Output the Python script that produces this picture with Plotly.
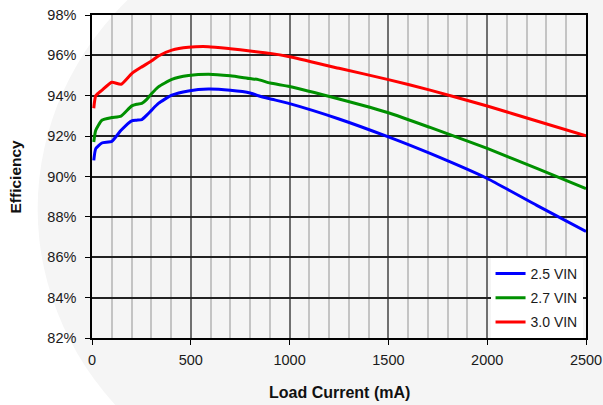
import plotly.graph_objects as go

# Load current (mA) and efficiency (%) for each input voltage
x_25 = [9, 19, 50, 100, 147, 201, 226, 252, 277, 302, 336, 404, 488, 589, 700, 800,
        842, 900, 1000, 1250, 1500, 1711, 2000, 2251, 2500]
eff_25 = [90.8, 91.38, 91.66, 91.74, 92.29, 92.76, 92.79, 92.82, 93.04, 93.29, 93.62,
          94.03, 94.24, 94.33, 94.27, 94.14, 94.0, 93.85, 93.61, 92.85, 91.96, 91.14,
          89.9, 88.57, 87.28]

x_27 = [9, 19, 50, 100, 147, 201, 226, 252, 277, 302, 336, 404, 488, 589, 700, 800,
        842, 902, 1000, 1250, 1500, 1711, 2000, 2251, 2500]
eff_27 = [91.71, 92.29, 92.79, 92.92, 92.99, 93.5, 93.58, 93.62, 93.82, 94.11, 94.44,
          94.81, 95.0, 95.07, 94.99, 94.85, 94.8, 94.63, 94.46, 93.84, 93.16, 92.43,
          91.39, 90.4, 89.4]

x_30 = [9, 19, 50, 100, 147, 201, 252, 302, 336, 404, 488, 589, 700, 800, 902, 1000,
        1250, 1500, 1711, 2000, 2251, 2500]
eff_30 = [93.38, 94.0, 94.27, 94.67, 94.57, 95.1, 95.43, 95.73, 95.97, 96.26, 96.4,
          96.43, 96.33, 96.22, 96.1, 95.93, 95.36, 94.8, 94.28, 93.49, 92.75, 92.02]

series = [
    ("2.5 VIN", x_25, eff_25, "#0000ff"),
    ("2.7 VIN", x_27, eff_27, "#009000"),
    ("3.0 VIN", x_30, eff_30, "#ff0000"),
]

x_ticks = [0, 500, 1000, 1500, 2000, 2500]
y_ticks = [82, 84, 86, 88, 90, 92, 94, 96, 98]
y_tick_text = [f"{v}%" for v in y_ticks]

fig = go.Figure()
for i, (name, xs, ys, color) in enumerate(series):
    fig.add_trace(go.Scatter(
        x=xs, y=ys, name=name, mode="lines",
        line=dict(color=color, width=3, shape="spline", smoothing=0.5),
        legendgroup=f"g{i}",
    ))

font = "Liberation Sans, Arial, sans-serif"

# faint background watermark
fig.add_shape(type="circle", xref="paper", yref="paper", layer="below",
              x0=-0.11, x1=1.25, y0=-0.55, y1=1.35,
              fillcolor="#f5f5f5", line=dict(width=0))

fig.update_layout(
    width=603, height=405,
    margin=dict(l=92, r=17, t=15, b=67),
    paper_bgcolor="white",
    plot_bgcolor="white",
    font=dict(family=font, size=14.5, color="#1a1a1a"),
    showlegend=True,
    legend=dict(
        x=0.993, y=0.0, xanchor="right", yanchor="bottom",
        bgcolor="white", borderwidth=0,
        font=dict(family=font, size=14, color="#1a1a1a"),
        traceorder="grouped", tracegroupgap=3, itemwidth=30,
    ),
    xaxis=dict(
        range=[0, 2500], tickvals=x_ticks, ticks="outside", ticklen=5,
        tickcolor="black", showline=True, linecolor="black", linewidth=1.5,
        mirror=True, showgrid=True, gridcolor="#707070", gridwidth=1.5,
        minor=dict(dtick=100, showgrid=True, gridcolor="#c4c4c4", gridwidth=1.5),
        zeroline=False, ticklabelstandoff=3, automargin=False,
    ),
    yaxis=dict(
        range=[82, 98], tickvals=y_ticks, ticktext=y_tick_text, ticks="outside",
        ticklen=5, tickcolor="black", showline=True, linecolor="black",
        linewidth=1.5, mirror=True, showgrid=True, gridcolor="#222222",
        gridwidth=1.5, zeroline=False, ticklabelstandoff=6, automargin=False,
    ),
    annotations=[
        dict(text="<b>Load Current (mA)</b>", xref="paper", yref="paper",
             x=0.5, y=0, yshift=-54, xanchor="center", yanchor="middle",
             showarrow=False, font=dict(family=font, size=16, color="#111111")),
        dict(text="<b>Efficiency</b>", xref="paper", yref="paper",
             x=0, y=0.5, xshift=-77, xanchor="center", yanchor="middle",
             textangle=-90, showarrow=False,
             font=dict(family=font, size=15.5, color="#111111")),
    ],
)

fig.write_html("out.html")
